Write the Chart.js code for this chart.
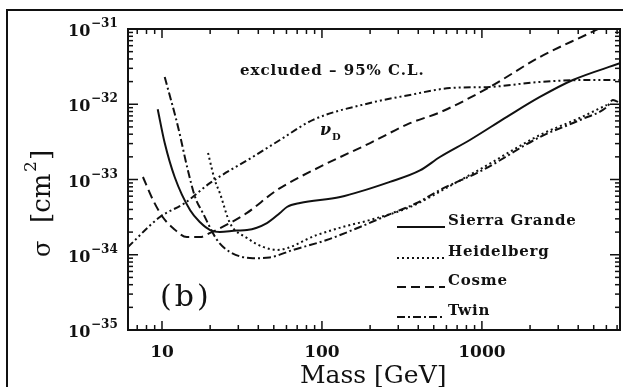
<!DOCTYPE html>
<html>
<head>
<meta charset="utf-8">
<script src="https://cdn.jsdelivr.net/npm/chart.js@4/dist/chart.umd.min.js"></script>
<style>
  html, body { margin:0; padding:0; background:#fff; }
  #wrap { position:relative; width:623px; height:387px; }
</style>
</head>
<body>
<div id="wrap"><canvas id="c" width="623" height="387"></canvas></div>
<script>
// axis limits
const massMin = 6.13, massMax = 7300;
const sigmaMin = 1e-35, sigmaMax = 1e-31;
const massTicks = [10, 100, 1000];
const sigmaDecades = [-35, -34, -33, -32, -31];

// Sierra Grande (solid)
const sierraMass  = [9.4, 10.4, 12.0, 15.0, 17.3, 20.0, 23.0, 29.4, 34, 45.3, 54.6, 60.4, 72.9, 130, 266, 410, 546, 841, 1433, 2305, 3705, 7290];
const sierraSigma = [8.6e-33, 3.05e-33, 1.08e-33, 3.9e-34, 2.7e-34, 2.13e-34, 2.0e-34, 2.1e-34, 2.13e-34, 2.64e-34, 3.59e-34, 4.31e-34, 4.87e-34, 5.85e-34, 9.3e-34, 1.32e-33, 1.99e-33, 3.35e-33, 6.8e-33, 1.25e-32, 2.1e-32, 3.5e-32];

// Heidelberg (dotted)
const heidelMass  = [19.4, 21.4, 23.0, 26.6, 34, 42.8, 52.4, 93, 135, 200, 355, 631, 1015, 2305, 4100, 6040];
const heidelSigma = [2.25e-33, 9.8e-34, 6.6e-34, 2.64e-34, 1.67e-34, 1.27e-34, 1.16e-34, 1.83e-34, 2.34e-34, 2.9e-34, 4.3e-34, 8.2e-34, 1.44e-33, 3.9e-33, 6.6e-33, 9.8e-33];

// Cosme (dashed)
const cosmeMass  = [7.6, 8.8, 10.1, 11.7, 14.3, 17.3, 20.0, 26.6, 34, 52.4, 97, 200, 355, 546, 1122, 2305, 4730, 5310];
const cosmeSigma = [1.08e-33, 5.3e-34, 3.17e-34, 2.27e-34, 1.72e-34, 1.72e-34, 1.95e-34, 2.64e-34, 3.6e-34, 7.25e-34, 1.47e-33, 3.05e-33, 5.6e-33, 7.8e-33, 1.7e-32, 4.25e-32, 8.85e-32, 1.0e-31];

// Twin (dash-dot)
const twinMass  = [10.4, 12.6, 14.5, 16.1, 18.0, 22.1, 26.6, 37, 47, 66, 107, 173, 278, 392, 546, 1015, 2305, 4100, 6040, 6590, 7290];
const twinSigma = [2.3e-32, 5.0e-33, 1.34e-33, 5.85e-34, 3.6e-34, 1.57e-34, 1.09e-34, 9.0e-35, 9.2e-35, 1.16e-34, 1.57e-34, 2.34e-34, 3.6e-34, 4.87e-34, 7.25e-34, 1.34e-33, 3.67e-33, 6.17e-33, 9.2e-33, 1.14e-32, 1.04e-32];

// nu_D prediction (dash-dot-dot)
const nuMass  = [6.13, 9.7, 13.9, 20, 37, 54.6, 88, 200, 355, 631, 1122, 2305, 4730, 7290];
const nuSigma = [1.27e-34, 3.17e-34, 4.87e-34, 9.0e-34, 2.0e-33, 3.35e-33, 6.2e-33, 1.04e-32, 1.33e-32, 1.64e-32, 1.7e-32, 1.98e-32, 2.1e-32, 2.1e-32];

const ink = '#111';
const serif = '"DejaVu Serif", serif';

const dashes = {
  sierra: [],
  heidel: [2, 3],
  cosme: [9, 5],
  twin: [8, 3, 2, 3],
  nu: [7, 3, 2, 3, 2, 3]
};

function pts(xs, ys) { return xs.map((v, i) => ({ x: v, y: ys[i] })); }

function series(label, xs, ys, dash) {
  return {
    label: label,
    data: pts(xs, ys),
    borderColor: ink,
    borderWidth: 2,
    borderDash: dash,
    borderCapStyle: 'butt',
    pointRadius: 0,
    fill: false,
    cubicInterpolationMode: 'monotone'
  };
}

function txt(ctx, s, x, y, font, align, base) {
  ctx.font = font;
  ctx.textAlign = align || 'left';
  ctx.textBaseline = base || 'alphabetic';
  ctx.fillText(s, x, y);
}

const frame = {
  id: 'frame',
  afterDatasetsDraw(chart) {
    const { ctx, chartArea: a, scales: { x, y } } = chart;
    ctx.save();
    ctx.strokeStyle = ink;
    ctx.fillStyle = ink;

    // outer border of the figure
    ctx.lineWidth = 2;
    ctx.strokeRect(7, 10, 660, 420);

    // axes box
    ctx.strokeRect(a.left, a.top, a.right - a.left, a.bottom - a.top);

    const line = (x1, y1, x2, y2) => { ctx.beginPath(); ctx.moveTo(x1, y1); ctx.lineTo(x2, y2); ctx.stroke(); };

    // x ticks, bottom and top, pointing inwards
    ctx.lineWidth = 1.5;
    for (let d = 0; d <= 3; d++) {
      for (let k = 1; k <= 9; k++) {
        const v = k * Math.pow(10, d);
        if (v < massMin || v > massMax) continue;
        const px = x.getPixelForValue(v);
        const len = k === 1 ? 9 : 5;
        line(px, a.bottom, px, a.bottom - len);
        line(px, a.top, px, a.top + len);
      }
    }
    // y ticks, left and right
    sigmaDecades.forEach(d => {
      for (let k = 1; k <= 9; k++) {
        const v = k * Math.pow(10, d);
        if (v < sigmaMin || v > sigmaMax * 1.0001) continue;
        const py = y.getPixelForValue(v);
        const len = k === 1 ? 10 : 5;
        line(a.left, py, a.left + len, py);
        line(a.right, py, a.right - len, py);
      }
    });

    // x tick labels
    massTicks.forEach(v => {
      txt(ctx, String(v), x.getPixelForValue(v), 357, 'bold 17px ' + serif, 'center');
    });
    // y tick labels, 10 with raised exponent
    sigmaDecades.forEach(d => {
      const py = y.getPixelForValue(Math.pow(10, d));
      txt(ctx, '10', 68, py + 7, 'bold 16px ' + serif, 'left');
      txt(ctx, '\u2212' + String(-d), 91, py - 2, 'bold 12px ' + serif, 'left');
    });

    // axis titles
    txt(ctx, 'Mass [GeV]', 300, 383, '25px ' + serif, 'left');
    ctx.save();
    ctx.translate(50, 257);
    ctx.rotate(-Math.PI / 2);
    txt(ctx, '\u03c3', 0, 0, '24px ' + serif, 'left');
    txt(ctx, '[cm', 34, 0, '26px ' + serif, 'left');
    txt(ctx, '2', 85, -14, '17px ' + serif, 'left');
    txt(ctx, ']', 97, 0, '26px ' + serif, 'left');
    ctx.restore();

    // annotations
    ctx.save();
    ctx.letterSpacing = '1px';
    txt(ctx, 'excluded \u2013 95% C.L.', 240, 75, 'bold 15px ' + serif, 'left');
    ctx.restore();
    txt(ctx, '\u03bd', 320, 135, 'bold italic 16px ' + serif, 'left');
    txt(ctx, 'D', 332, 140, 'bold 10px ' + serif, 'left');
    ctx.save();
    ctx.letterSpacing = '3px';
    txt(ctx, '(b)', 160, 306, '30px ' + serif, 'left');
    ctx.restore();

    // legend
    const rows = [
      ['Sierra Grande', dashes.sierra, 225],
      ['Heidelberg', dashes.heidel, 256],
      ['Cosme', dashes.cosme, 285],
      ['Twin', dashes.twin, 315]
    ];
    rows.forEach(r => {
      ctx.lineWidth = 2;
      ctx.setLineDash(r[1]);
      line(397, r[2] + 2, 445, r[2] + 2);
      ctx.setLineDash([]);
      ctx.save();
      ctx.letterSpacing = '0.8px';
      txt(ctx, r[0], 448, r[2], 'bold 15px ' + serif, 'left');
      ctx.restore();
    });
    ctx.restore();
  }
};

new Chart(document.getElementById('c'), {
  type: 'line',
  data: {
    datasets: [
      series('Sierra Grande', sierraMass, sierraSigma, dashes.sierra),
      series('Heidelberg', heidelMass, heidelSigma, dashes.heidel),
      series('Cosme', cosmeMass, cosmeSigma, dashes.cosme),
      series('Twin', twinMass, twinSigma, dashes.twin),
      series('\u03bd_D', nuMass, nuSigma, dashes.nu)
    ]
  },
  options: {
    responsive: false,
    animation: false,
    layout: { padding: { left: 128, top: 29, right: 3, bottom: 57 } },
    scales: {
      x: { type: 'logarithmic', min: massMin, max: massMax, display: false },
      y: { type: 'logarithmic', min: sigmaMin, max: sigmaMax, display: false }
    },
    plugins: {
      legend: { display: false },
      tooltip: { enabled: false }
    }
  },
  plugins: [frame]
});
</script>
</body>
</html>
